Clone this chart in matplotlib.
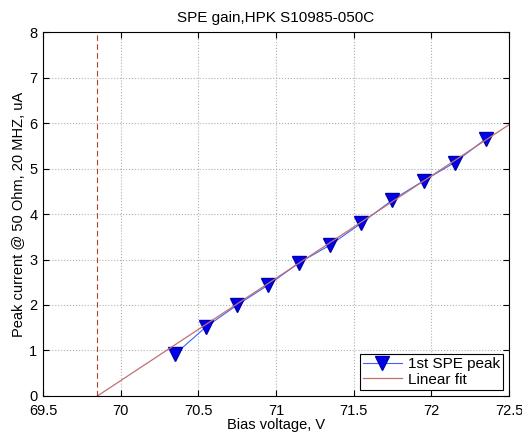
import matplotlib.pyplot as plt
import numpy as np

plt.rcParams['font.family'] = ['Liberation Sans', 'DejaVu Sans']

# measured SPE peak current vs bias
bias = [70.35, 70.55, 70.75, 70.95, 71.15, 71.35, 71.55, 71.75, 71.95, 72.15, 72.35]
peak = [0.92, 1.52, 2.00, 2.44, 2.93, 3.32, 3.80, 4.31, 4.73, 5.13, 5.65]

# linear fit: current = slope * (V - V_bd)
v_bd = 69.85
slope = 2.25

fig = plt.figure(figsize=(5.22, 4.33), dpi=100)
ax = fig.add_axes([0.0824, 0.0855, 0.8926, 0.8405])

ax.plot(bias, peak, color='#4060ff', linewidth=0.8, marker='v', markersize=9.5,
        markerfacecolor='#0000ee', markeredgecolor='#0000aa', label='1st SPE peak')
xf = np.array([v_bd, 72.6])
ax.plot(xf, slope * (xf - v_bd), color='#c07070', linewidth=0.9, label='Linear fit')
ax.axvline(v_bd, color='#b04020', linestyle='--', linewidth=0.8, dashes=(5, 3))

ax.set_xlim(69.5, 72.5)
ax.set_ylim(0, 8)
ax.set_xticks(np.arange(69.5, 72.51, 0.5))
ax.set_xticklabels(['69.5', '70', '70.5', '71', '71.5', '72', '72.5'])
ax.grid(True, linestyle=':', color='#b0b0b0', linewidth=0.8)
ax.tick_params(direction='in', labelsize=10.5, length=4, top=True, right=True)
ax.tick_params(axis='x', pad=6)
ax.tick_params(axis='y', pad=4)

ax.set_title('SPE gain,HPK S10985-050C', fontsize=11, pad=7)
ax.set_xlabel('Bias voltage, V', fontsize=10.5, labelpad=0)
ax.set_ylabel('Peak current @ 50 Ohm, 20 MHZ, uA', fontsize=10.5, labelpad=2)

leg = ax.legend(loc='lower right', fontsize=11, fancybox=False, edgecolor='black',
                framealpha=1, borderaxespad=0.4, handlelength=2.5, borderpad=0.2,
                labelspacing=0.1, handletextpad=0.4)
leg.get_frame().set_linewidth(0.8)

fig.savefig('out.png', dpi=100)
